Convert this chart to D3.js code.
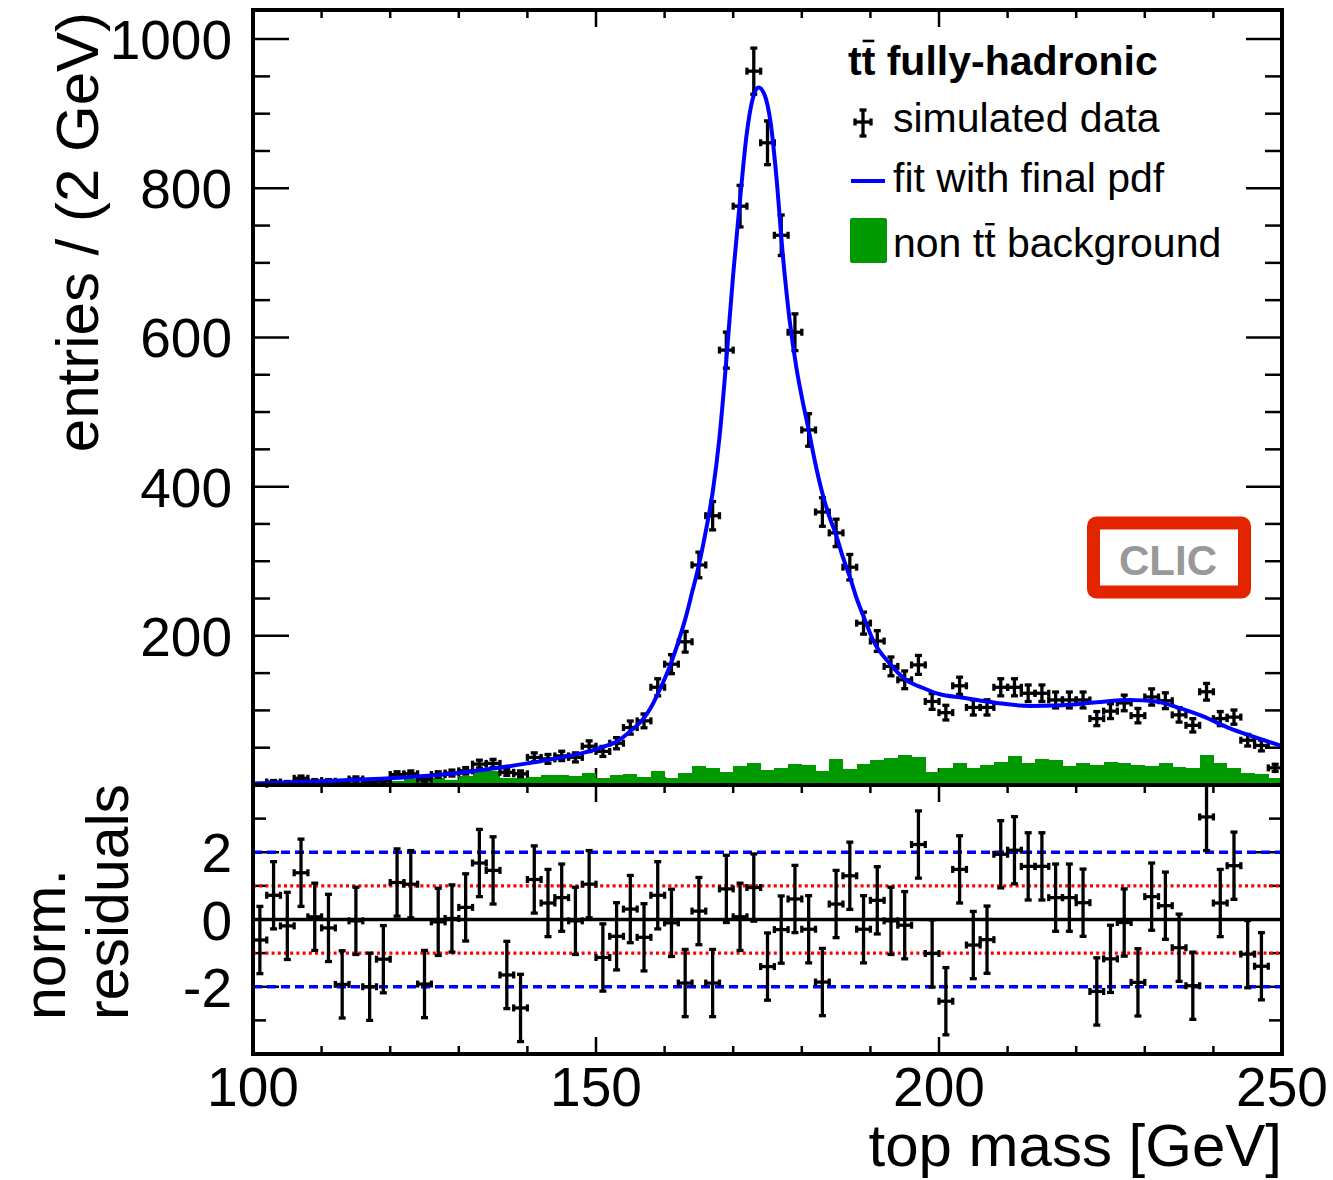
<!DOCTYPE html>
<html><head><meta charset="utf-8">
<script src="https://cdn.jsdelivr.net/npm/d3@7"></script>
<style>
body{margin:0;background:#fff}
svg{display:block}
text{font-family:"Liberation Sans", Arial, Helvetica, sans-serif}
</style>
</head><body>
<svg id="c" width="1333" height="1180"></svg>
<script>
// ---------------- data ----------------
const binCenters = d3.range(101, 250, 2); // 2 GeV bins, 100..250
const counts = [1,4,3,9,5,5,2,8,4,6,14,15,8,14,16,19,28,29,17,15,37,35,39,37,52,
  45,56,77,86,131,162,192,295,361,583,776,957,861,737,607,476,366,338,292,217,193,159,141,161,112,
  97,133,104,104,131,131,123,123,114,114,114,89,99,110,93,118,113,94,80,125,89,91,60,53,23];
const background = [2,3,3,9,4,4,3,4,5,5,6,8,9,9,7,12,19,19,10,10,11,13,13,12,16,
  10,14,15,11,19,10,16,26,23,17,26,30,20,23,28,27,19,35,21,28,33,36,40,37,17,
  23,29,23,27,31,39,29,35,33,25,29,27,31,29,27,25,29,24,23,40,29,23,16,15,9];
const residuals = [-0.61,0.72,-0.19,1.39,0.08,-0.25,-1.93,-0.04,-2.0,-1.18,1.10,1.05,-1.92,-0.07,0.03,0.36,1.68,1.46,-1.65,-2.63,1.19,0.49,0.65,-0.04,1.05,
  -1.13,-0.50,0.31,-0.53,0.72,-0.10,-1.89,0.25,-1.89,0.91,0.08,0.95,-1.40,-0.30,0.61,-0.29,-1.86,0.46,1.30,-0.29,0.57,-0.04,-0.17,2.23,-1.01,
  -2.43,1.49,-0.76,-0.60,1.94,2.06,1.58,1.58,0.65,0.65,0.50,-2.14,-1.17,-0.09,-1.87,0.68,0.41,-0.84,-1.97,3.05,0.49,1.60,-1.03,-1.39,null];
const fitMass = [100,105,110,115,120,125,130,135,140,145,149,151,153,155,157,158,159,160,161,162,
  163,164,165,166,167,168,169,170,171,172,173,173.7,174.5,175.5,176.3,177.2,178.2,179.2,180,181,
  182,183,184,185,186,187,188,189,190.4,192.8,195.2,197.7,200,203.5,208.4,213.2,218,223,227.8,231.7,
  235.1,238.5,242.4,245.8,250];
const fitValues = [2,3.5,5,7,9,12,16,22,29,37,45,51,58,72,90,104,122,142,165,192,
  222,258,295,340,392,466,570,685,785,875,925,935,927,885,815,714,625,560,520,476,
  430,391,360,335,305,279,250,226,194,163,141,130,122,117,110,106,107,111,114,112,
  103,92,76,65,52];
const xTickLabels = [100,150,200,250];
const yTopTickLabels = [200,400,600,800,1000];
const yResTickLabels = [-2,0,2];

// ---------------- layout ----------------
const L=253, R=1282, T=10, M=785, B=1054;
const svg = d3.select("#c");
const x = d3.scaleLinear([100,250],[L,R]);
const yTop = d3.scaleLinear([0,1039],[M,T]);
const yRes = d3.scaleLinear([-4,4],[B,M]);
const GREEN="#009a00", BLUE="#0000ff", RED="#ff0000";

svg.append("rect").attr("width",1333).attr("height",1180).attr("fill","#fff");

// ---------------- ticks ----------------
const tk = svg.append("g").attr("stroke","#000").attr("stroke-width",2.5);
function hline(g,x1,x2,y){g.append("line").attr("x1",x1).attr("x2",x2).attr("y1",y).attr("y2",y);}
function vline(g,xx,y1,y2){g.append("line").attr("x1",xx).attr("x2",xx).attr("y1",y1).attr("y2",y2);}
d3.range(50,1040,50).forEach(v=>{
  const len = (v%200===0)?36:17;
  hline(tk,L,L+len,yTop(v)); hline(tk,R-len,R,yTop(v));
});
d3.range(100,251,10).forEach(v=>{
  const len = (v%50===0)?17:8;
  const xx=x(v);
  vline(tk,xx,M,M-len); vline(tk,xx,T,T+len);
  vline(tk,xx,M,M+len); vline(tk,xx,B,B-len);
});
d3.range(-3,4,1).forEach(v=>{
  const len = (v%2===0)?26:13;
  hline(tk,L,L+len,yRes(v)); hline(tk,R-len,R,yRes(v));
});

// ---------------- background histogram ----------------
svg.append("g").selectAll("rect").data(binCenters).join("rect")
  .attr("x",c=>x(c-1)).attr("width",c=>x(c+1)-x(c-1)+0.3)
  .attr("y",(c,i)=>yTop(background[i])).attr("height",(c,i)=>M-yTop(background[i]))
  .attr("fill",GREEN).attr("shape-rendering","crispEdges");

// ---------------- error-bar marker helper ----------------
function marker(g, cx, cy, xl, xr, yt, yb){
  const cap=3.5;
  g.append("line").attr("x1",xl).attr("x2",xr).attr("y1",cy).attr("y2",cy);
  g.append("line").attr("x1",xl).attr("x2",xl).attr("y1",cy-cap).attr("y2",cy+cap);
  g.append("line").attr("x1",xr).attr("x2",xr).attr("y1",cy-cap).attr("y2",cy+cap);
  if (yb-yt>0.5){
    g.append("line").attr("x1",cx).attr("x2",cx).attr("y1",yt).attr("y2",yb);
    g.append("line").attr("x1",cx-cap).attr("x2",cx+cap).attr("y1",yt).attr("y2",yt);
    g.append("line").attr("x1",cx-cap).attr("x2",cx+cap).attr("y1",yb).attr("y2",yb);
  }
}

// ---------------- data points ----------------
const gd = svg.append("g").attr("stroke","#000").attr("stroke-width",3.3);
binCenters.forEach((c,i)=>{
  const v=counts[i], e=Math.sqrt(v);
  marker(gd, x(c), yTop(v), x(c-1), x(c+1), yTop(v+e), yTop(Math.max(0,v-e)));
});

// ---------------- fit curve ----------------
const line = d3.line().x((d,i)=>x(fitMass[i])).y((d,i)=>yTop(fitValues[i])).curve(d3.curveMonotoneX);
svg.append("path").datum(fitValues).attr("d",line).attr("fill","none")
  .attr("stroke",BLUE).attr("stroke-width",4);

// ---------------- residual panel ----------------
svg.append("defs").append("clipPath").attr("id","resclip").append("rect")
  .attr("x",L).attr("y",M).attr("width",R-L).attr("height",B-M);
const gr = svg.append("g").attr("clip-path","url(#resclip)");
[-2,2].forEach(v=>gr.append("line").attr("x1",L).attr("x2",R).attr("y1",yRes(v)).attr("y2",yRes(v))
  .attr("stroke",BLUE).attr("stroke-width",3.5).attr("stroke-dasharray","9,5"));
[-1,1].forEach(v=>gr.append("line").attr("x1",L).attr("x2",R).attr("y1",yRes(v)).attr("y2",yRes(v))
  .attr("stroke",RED).attr("stroke-width",3.3).attr("stroke-dasharray","3,3.2"));
gr.append("line").attr("x1",L).attr("x2",R).attr("y1",yRes(0)).attr("y2",yRes(0))
  .attr("stroke","#000").attr("stroke-width",3.3);
const grp = gr.append("g").attr("stroke","#000").attr("stroke-width",3.3);
binCenters.forEach((c,i)=>{
  const r=residuals[i];
  if (r===null) return;
  marker(grp, x(c), yRes(r), x(c-1), x(c+1), yRes(r+1), yRes(r-1));
});

// ---------------- frames ----------------
svg.append("rect").attr("x",L).attr("y",T).attr("width",R-L).attr("height",M-T)
  .attr("fill","none").attr("stroke","#000").attr("stroke-width",4);
svg.append("rect").attr("x",L).attr("y",M).attr("width",R-L).attr("height",B-M)
  .attr("fill","none").attr("stroke","#000").attr("stroke-width",4);

// ---------------- tick labels ----------------
const FS=55;
svg.append("g").selectAll("text").data(yTopTickLabels).join("text")
  .attr("x",232).attr("y",d=>yTop(d)+20).attr("text-anchor","end")
  .attr("font-size",FS).text(d=>d);
svg.append("g").selectAll("text").data(yResTickLabels).join("text")
  .attr("x",232).attr("y",d=>yRes(d)+20).attr("text-anchor","end")
  .attr("font-size",FS).text(d=>d);
svg.append("g").selectAll("text").data(xTickLabels).join("text")
  .attr("x",d=>x(d)).attr("y",1106).attr("text-anchor","middle")
  .attr("font-size",FS).text(d=>d);

// ---------------- axis titles ----------------
svg.append("text").attr("transform","translate(1282,1166)").attr("text-anchor","end")
  .attr("font-size",60).text("top mass [GeV]");
svg.append("text").attr("transform","translate(98,12) rotate(-90)").attr("text-anchor","end")
  .attr("font-size",60).text("entries / (2 GeV)");
svg.append("text").attr("transform","translate(65,1020) rotate(-90)").attr("text-anchor","start")
  .attr("font-size",59).text("norm.");
svg.append("text").attr("transform","translate(128,1020) rotate(-90)").attr("text-anchor","start")
  .attr("font-size",59).text("residuals");

// ---------------- legend ----------------
const LFS=41;
function ttbar(t, fs, rise){
  const n=t.node();
  const s=n.getStartPositionOfChar(1), e=n.getEndPositionOfChar(1);
  const by = +t.attr("y") - rise*fs;
  svg.append("line").attr("x1",s.x+1).attr("x2",e.x-1).attr("y1",by).attr("y2",by)
    .attr("stroke","#000").attr("stroke-width",2.6);
}
const title = svg.append("text").attr("x",848).attr("y",75).attr("font-size",LFS)
  .attr("font-weight","bold").text("tt fully-hadronic");
ttbar(title, LFS, 0.83);
const gl = svg.append("g").attr("stroke","#000").attr("stroke-width",3.3);
marker(gl, 863, 122, 855, 871, 110, 136);
svg.append("text").attr("x",893).attr("y",132).attr("font-size",LFS).text("simulated data");
svg.append("line").attr("x1",851).attr("x2",885).attr("y1",181).attr("y2",181)
  .attr("stroke",BLUE).attr("stroke-width",4);
svg.append("text").attr("x",893).attr("y",192).attr("font-size",LFS).text("fit with final pdf");
svg.append("rect").attr("x",850).attr("y",218).attr("width",37).attr("height",45).attr("rx",2)
  .attr("fill",GREEN);
const bgt = svg.append("text").attr("x",893).attr("y",257).attr("font-size",LFS).text("non tt background");
(function(){
  const n=bgt.node();
  const s=n.getStartPositionOfChar(5), e=n.getEndPositionOfChar(5);
  const by=257-0.8*LFS;
  svg.append("line").attr("x1",s.x+1).attr("x2",e.x-1).attr("y1",by).attr("y2",by)
    .attr("stroke","#000").attr("stroke-width",2.4);
})();

// ---------------- CLIC box ----------------
svg.append("rect").attr("x",1093.5).attr("y",523).attr("width",151).attr("height",69).attr("rx",3)
  .attr("fill","#fff").attr("stroke","#e32400").attr("stroke-width",13);
svg.append("text").attr("x",1168).attr("y",575).attr("text-anchor","middle")
  .attr("font-size",42).attr("font-weight","bold").attr("fill","#999").text("CLIC");
</script>
</body></html>
